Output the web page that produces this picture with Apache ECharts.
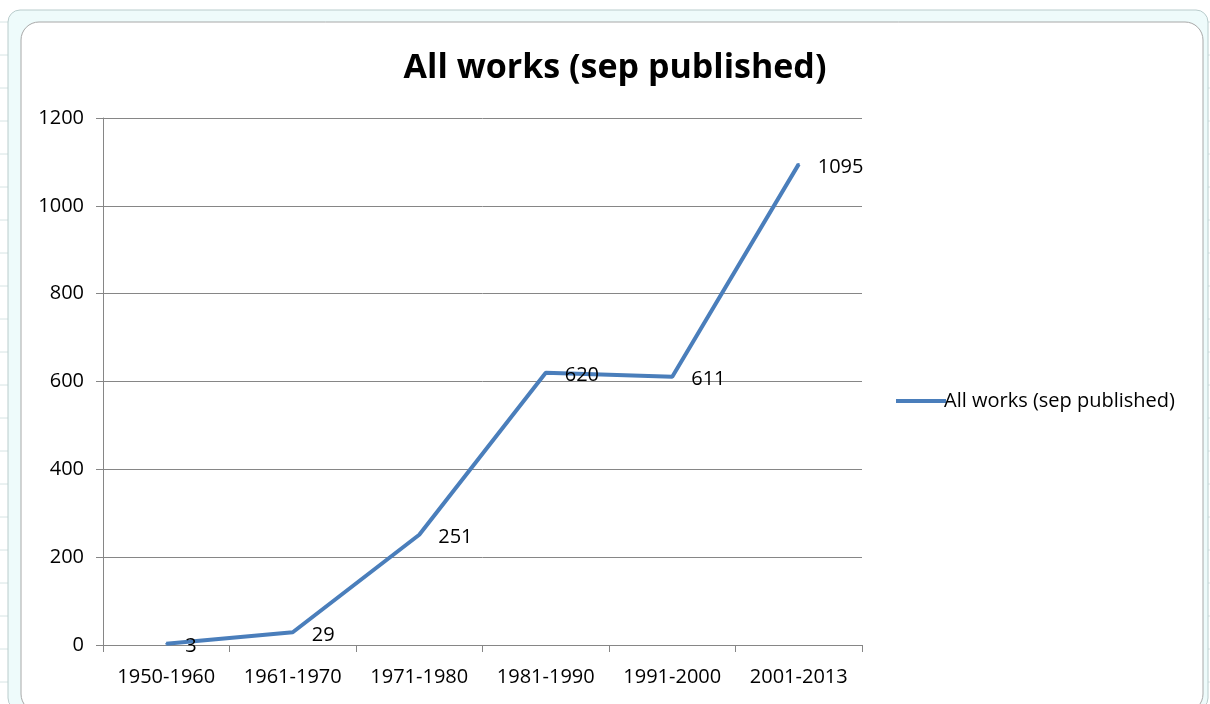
<!DOCTYPE html>
<html><head><meta charset="utf-8">
<script src="https://cdn.jsdelivr.net/npm/echarts@6/dist/echarts.min.js"></script>
<style>html,body{margin:0;padding:0;background:#fff}#c{width:1210px;height:704px}</style>
</head><body><div id="c"></div>
<script>
const categories = ['1950-1960','1961-1970','1971-1980','1981-1990','1991-2000','2001-2013'];
const values = [3, 29, 251, 620, 611, 1095];
const seriesName = 'All works (sep published)';
const titleText = 'All works (sep published)';

const font = "'Open Sans', 'Noto Sans', sans-serif";
const chart = echarts.init(document.getElementById('c'), null, {renderer: 'canvas'});

// spreadsheet background decoration
const bg = [];
bg.push({type:'rect', shape:{x:0,y:0,width:1210,height:704}, style:{fill:'#ffffff'}, silent:true, z:-10});
for (let y = 22; y < 704; y += 33) {
  bg.push({type:'line', shape:{x1:0,y1:y,x2:22,y2:y}, style:{stroke:'#d6e4e4',lineWidth:1}, silent:true, z:-9});
  bg.push({type:'line', shape:{x1:1203,y1:y,x2:1210,y2:y}, style:{stroke:'#d6e4e4',lineWidth:1}, silent:true, z:-9});
}
[270, 380, 490, 600, 935, 1045, 1155].forEach(x => {
  bg.push({type:'line', shape:{x1:x,y1:10,x2:x,y2:22}, style:{stroke:'#d6e4e4',lineWidth:1}, silent:true, z:-9});
});
bg.push({type:'rect', shape:{x:8,y:10,width:1200,height:700,r:12}, style:{fill:'#eefbfb',stroke:'#b9cccc',lineWidth:1}, silent:true, z:-8});
bg.push({type:'rect', shape:{x:21,y:22,width:1182,height:690,r:18}, style:{fill:'#ffffff',stroke:'#a8a8a8',lineWidth:1}, silent:true, z:-7});

chart.setOption({
  animation: false,
  backgroundColor: '#ffffff',
  graphic: bg,
  title: {
    text: titleText, left: 610, top: 46, textAlign: 'center',
    textStyle: {fontFamily: font, fontSize: 34, fontWeight: 'bold', color: '#000'}
  },
  legend: {
    left: 891, top: 386, orient: 'vertical',
    itemWidth: 50, itemHeight: 4, itemGap: 4,
    textStyle: {fontFamily: font, fontSize: 20, color: '#000', padding: [0,0,0,-7]},
    data: [{name: seriesName, icon: 'rect', itemStyle: {color: '#4a7ebb', opacity: 1}}]
  },
  grid: {left: 103, right: 348, top: 118, bottom: 59, containLabel: false},
  xAxis: {
    type: 'category', data: categories, boundaryGap: true,
    axisLine: {lineStyle: {color: '#868686', width: 1}},
    axisTick: {show: true, alignWithLabel: false, length: 7, lineStyle: {color: '#868686'}},
    axisLabel: {fontFamily: font, fontSize: 20, color: '#000', margin: 22, interval: 0}
  },
  yAxis: {
    type: 'value', min: 0, max: 1200, interval: 200,
    axisLine: {show: true, lineStyle: {color: '#868686', width: 1}},
    axisTick: {show: true, length: 7, lineStyle: {color: '#868686'}},
    axisLabel: {fontFamily: font, fontSize: 20, color: '#000', margin: 19, formatter: v => String(v)},
    splitLine: {lineStyle: {color: '#868686', width: 1}}
  },
  series: [{
    name: seriesName, type: 'line', data: values,
    symbol: 'circle', symbolSize: 2, showSymbol: true, smooth: false,
    lineStyle: {color: '#4a7ebb', width: 4},
    itemStyle: {color: '#4a7ebb'},
    label: {show: true, position: 'right', distance: 18, fontFamily: font, fontSize: 20, color: '#000', offset: [0, 3]}
  }]
});
</script></body></html>
